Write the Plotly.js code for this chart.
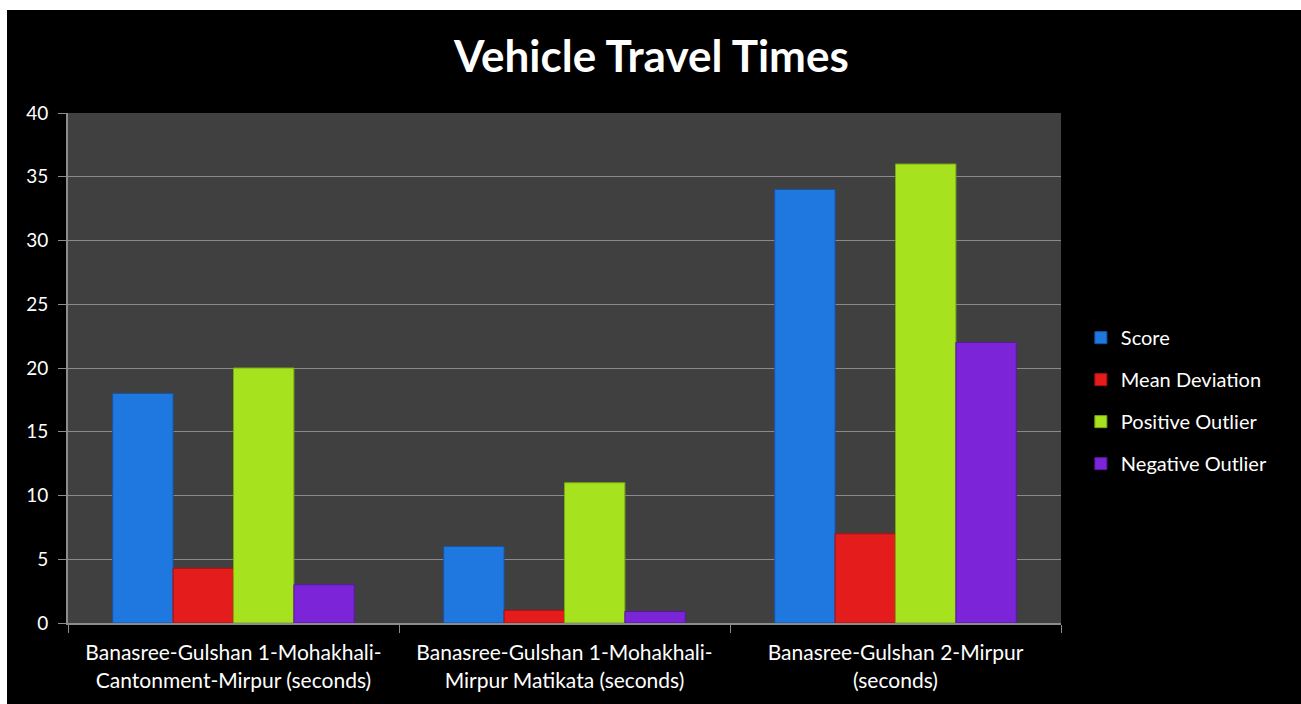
<!DOCTYPE html>
<html>
<head>
<meta charset="utf-8">
<script src="https://cdn.plot.ly/plotly-3.0.1.min.js"></script>
<style>
html,body{margin:0;padding:0;background:#ffffff;overflow:hidden;}
#chart{position:absolute;left:7px;top:10px;width:1294px;height:694px;background:#000;}
</style>
</head>
<body>
<div id="chart"></div>
<script>
const categories = [
  "Banasree-Gulshan 1-Mohakhali-<br>Cantonment-Mirpur (seconds)",
  "Banasree-Gulshan 1-Mohakhali-<br>Mirpur Matikata (seconds)",
  "Banasree-Gulshan 2-Mirpur<br>(seconds)"
];
const seriesNames = ["Score", "Mean Deviation", "Positive Outlier", "Negative Outlier"];
const score = [18, 6, 34];
const meanDeviation = [4.3, 1, 7];
const positiveOutlier = [20, 11, 36];
const negativeOutlier = [3, 0.9, 22];
const yTicks = [0, 5, 10, 15, 20, 25, 30, 35, 40];

const seriesValues = [score, meanDeviation, positiveOutlier, negativeOutlier];
const colors = ["#1f78e0", "#e41c1c", "#a6e21e", "#7b24d8"];
const lineColors = ["#1455a8", "#a81010", "#78a812", "#561a9e"];

const traces = seriesValues.map((vals, i) => ({
  type: "bar",
  name: seriesNames[i],
  x: categories,
  y: vals,
  legendgroup: "g" + i,
  marker: {color: colors[i], line: {color: lineColors[i], width: 1}},
  hoverinfo: "skip"
}));

const fam = "Lato, 'Noto Sans', sans-serif";

const layout = {
  width: 1294,
  height: 694,
  paper_bgcolor: "#000000",
  plot_bgcolor: "#404040",
  font: {family: fam, color: "#ffffff", size: 18},
  margin: {l: 61, r: 240, t: 103, b: 81},
  title: {
    text: "<b>Vehicle Travel Times</b>",
    font: {size: 44, color: "#ffffff", family: fam},
    x: 0.498, xref: "container", xanchor: "center",
    y: 1 - 47/694, yref: "container", yanchor: "middle"
  },
  barmode: "group",
  bargap: 0.27,
  bargroupgap: 0,
  xaxis: {
    type: "category",
    showline: true, linecolor: "#8c8c8c", linewidth: 2,
    ticks: "outside", tickson: "boundaries", ticklen: 8, tickcolor: "#8c8c8c", tickwidth: 1,
    tickfont: {size: 21, color: "#ffffff"},
    ticklabelstandoff: 10,
    showgrid: false,
    fixedrange: true
  },
  yaxis: {
    range: [0, 40],
    tickvals: yTicks,
    ticktext: yTicks.map(String),
    showline: true, linecolor: "#8c8c8c", linewidth: 2,
    ticks: "outside", ticklen: 8, tickcolor: "#8c8c8c",
    gridcolor: "#8a8a8a", gridwidth: 1,
    zeroline: false,
    tickfont: {size: 19, color: "#ffffff"},
    ticklabelstandoff: 6,
    fixedrange: true
  },
  legend: {
    x: 1.02, xanchor: "left",
    y: 0.436, yanchor: "middle",
    traceorder: "grouped",
    tracegroupgap: 13,
    font: {size: 20, color: "#ffffff"},
    bgcolor: "rgba(0,0,0,0)",
    itemwidth: 30
  },
  showlegend: true
};

Plotly.newPlot("chart", traces, layout, {displayModeBar: false, staticPlot: true});
</script>
</body>
</html>
